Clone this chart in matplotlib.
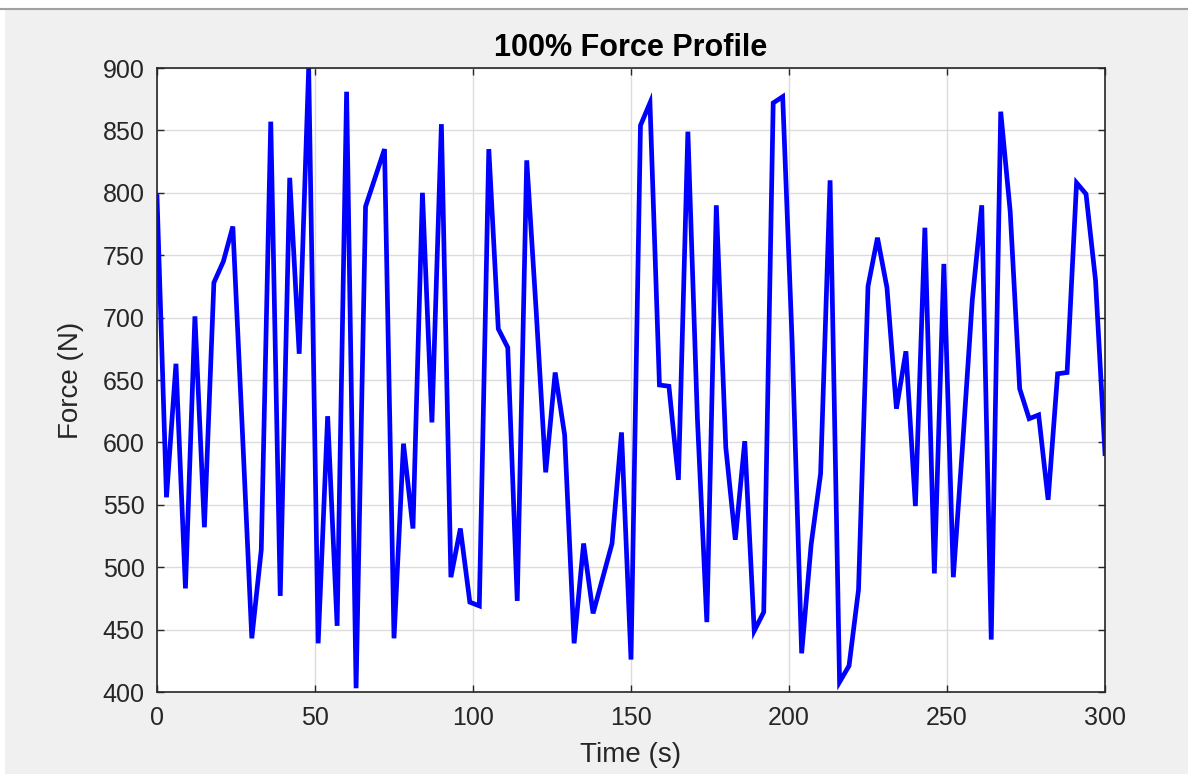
import numpy as np
import matplotlib
matplotlib.use('Agg')
import matplotlib.pyplot as plt
from matplotlib.patches import Rectangle
from matplotlib.lines import Line2D

plt.rcParams['font.family'] = ['Liberation Sans', 'DejaVu Sans']

# force profile, one sample every 3 s
time_s = np.arange(0, 301, 3)
force_n = [797, 556, 663, 483, 701, 532, 728, 745, 773, 610,
           443, 514, 857, 477, 812, 671, 900, 439, 621, 453,
           881, 403, 789, 812, 835, 443, 599, 531, 800, 616,
           855, 492, 531, 472, 469, 835, 691, 676, 473, 826,
           705, 576, 656, 606, 439, 519, 463, 491, 519, 608,
           426, 854, 872, 646, 645, 570, 849, 620, 456, 790,
           596, 522, 601, 449, 464, 872, 877, 680, 431, 518,
           575, 810, 408, 421, 482, 725, 764, 724, 627, 673,
           549, 772, 495, 743, 492, 600, 714, 790, 442, 865,
           785, 643, 619, 622, 554, 655, 656, 808, 799, 730,
           591]
x_ticks = [0, 50, 100, 150, 200, 250, 300]
y_ticks = [400, 450, 500, 550, 600, 650, 700, 750, 800, 850, 900]

fig = plt.figure(figsize=(11.88, 7.74), dpi=100, facecolor='white')
# matlab window background + thin top border
fig.patches.append(Rectangle((0.004, 0), 0.996, 1 - 10 / 774, transform=fig.transFigure,
                             facecolor='#f0f0f0', edgecolor='none', zorder=-10))
fig.lines.append(Line2D([0, 1], [1 - 9 / 774, 1 - 9 / 774], transform=fig.transFigure,
                        color='#a0a0a0', lw=1.5))

ax = fig.add_axes([157 / 1188, 1 - 692 / 774, (1105 - 157) / 1188, (692 - 68) / 774])
ax.set_facecolor('white')
ax.plot(time_s, force_n, color='#0000ff', lw=3.4, solid_joinstyle='miter', clip_on=True)

ax.set_xlim(0, 300)
ax.set_ylim(400, 900)
ax.set_xticks(x_ticks)
ax.set_yticks(y_ticks)
ax.grid(True, color='#dcdcdc', lw=1)
ax.set_axisbelow(True)
ax.tick_params(direction='in', top=True, right=True, length=5, width=1,
               colors='#262626', labelsize=18)
ax.tick_params(axis='x', pad=10)
ax.tick_params(axis='y', pad=9)
for s in ax.spines.values():
    s.set_color('#262626')
    s.set_linewidth(1.2)

ax.set_title('100% Force Profile', fontsize=22, fontweight='bold', color='black', pad=9)
ax.set_xlabel('Time (s)', fontsize=20, color='#262626', labelpad=9)
ax.set_ylabel('Force (N)', fontsize=20, color='#262626', labelpad=13)

fig.savefig('out.png', dpi=100, facecolor=fig.get_facecolor())
